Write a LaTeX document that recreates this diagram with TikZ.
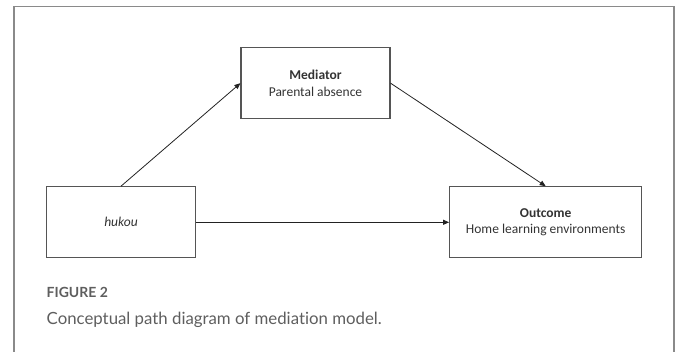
\documentclass[tikz,border=0pt]{standalone}
\usepackage{fontspec}
\setmainfont{Carlito}
\newfontfamily\capfont[Ligatures={NoCommon}]{Lato}
\usepackage{xcolor}
\definecolor{cBox}{HTML}{555555}
\definecolor{cLine}{HTML}{222222}
\definecolor{cText}{HTML}{333333}
\definecolor{cFrame}{HTML}{8A8A8A}
\definecolor{cCap}{HTML}{5E5E5E}
\usetikzlibrary{positioning,arrows.meta}
\tikzset{
  node-box/.style={draw=cBox,line width=1.2pt,minimum height=71pt,
    minimum width=149pt,align=center,text=cText,
    font=\fontsize{13.5}{16.5}\selectfont},
  arrow/.style={-{Triangle[length=6pt,width=5pt]},line width=0.8pt,draw=cLine},
  frame-line/.style={draw=cFrame,line width=1.8pt},
  cap-head/.style={anchor=base west,inner sep=0pt,text=cCap,
    font=\capfont\bfseries\fontsize{14}{16}\selectfont},
  cap-text/.style={anchor=base west,inner sep=0pt,text=cCap,
    font=\capfont\fontsize{16.8}{20}\selectfont},
}
\begin{document}
\begin{tikzpicture}[x=1pt,y=-1pt]
  \useasboundingbox (0,0) rectangle (679,352);
  % panel edge, open at the bottom
  \draw[frame-line] (14,352) |- (674,6.6) -- (674,352);
  \node[node-box] (hukou) at (121,222.3) {\itshape hukou};
  \node[node-box] (mediator) at (315.5,83.2) {\textbf{Mediator}\\Parental absence};
  \node[node-box,minimum width=192pt,right=253pt of hukou] (outcome)
    {\textbf{Outcome}\\Home learning environments};
  \draw[arrow] (hukou.north) -- (mediator.west);
  \draw[arrow] (mediator.east) -- (outcome.north);
  \draw[arrow] (hukou.east) -- (outcome.west);
  \node[cap-head] (fig) at (46.5,297.7) {FIGURE 2};
  \node[cap-text] (caption) at (46.5,324.3) {Conceptual path diagram of mediation model.};
\end{tikzpicture}
\end{document}
